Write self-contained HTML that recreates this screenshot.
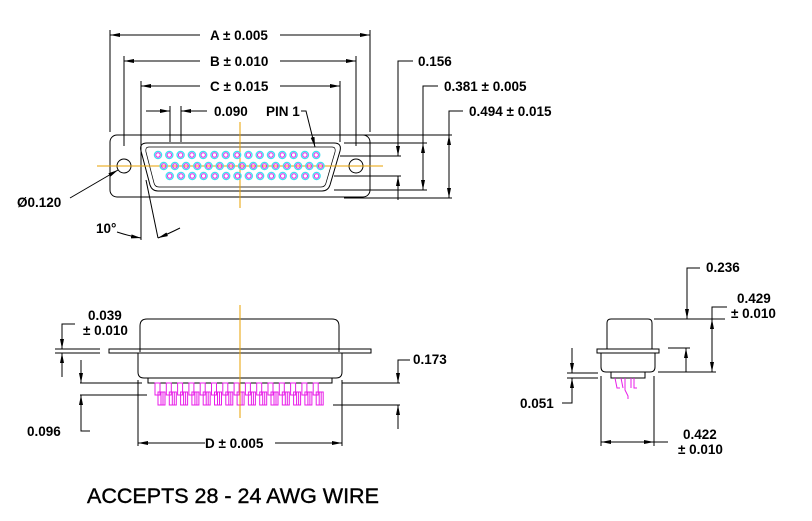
<!DOCTYPE html>
<html><head><style>body{margin:0;background:#fff}svg{display:block}text{font-family:"Liberation Sans",Arial,sans-serif;font-weight:bold;font-size:13.5px;fill:#000}</style></head>
<body>
<svg width="812" height="521" viewBox="0 0 812 521" xmlns="http://www.w3.org/2000/svg">
<defs>
<marker id="a" viewBox="0 0 10 4" refX="10" refY="2" markerWidth="10" markerHeight="4" orient="auto-start-reverse" markerUnits="userSpaceOnUse"><path d="M0,0L10,2L0,4z" fill="#000"/></marker>
</defs>
<g stroke="#000" stroke-width="1" fill="none">
<line x1="110" y1="30" x2="110" y2="132"/><line x1="370" y1="30" x2="370" y2="132"/>
<line x1="124" y1="56" x2="124" y2="146"/><line x1="356" y1="56" x2="356" y2="146"/>
<line x1="141" y1="81" x2="141" y2="142"/><line x1="340" y1="81" x2="340" y2="142"/>
<line x1="170" y1="106" x2="170" y2="142"/><line x1="181" y1="106" x2="181" y2="142"/>
<line x1="110" y1="35" x2="200" y2="35" marker-start="url(#a)"/><line x1="280" y1="35" x2="370" y2="35" marker-end="url(#a)"/>
<line x1="124" y1="61" x2="200" y2="61" marker-start="url(#a)"/><line x1="280" y1="61" x2="356" y2="61" marker-end="url(#a)"/>
<line x1="141" y1="86" x2="200" y2="86" marker-start="url(#a)"/><line x1="280" y1="86" x2="340" y2="86" marker-end="url(#a)"/>
<line x1="146" y1="111" x2="170" y2="111" marker-end="url(#a)"/><line x1="207" y1="111" x2="181" y2="111" marker-end="url(#a)"/>
<path d="M301,111h5l9,36" marker-end="url(#a)"/>
<rect x="110" y="135" width="260" height="62" rx="7"/>
<path d="M147,143H334q8,0 6,8L330,185q-2,6-8,6H158q-6,0-8-6L141,151q-2-8,6-8z"/>
<path d="M149,147H332q4,0 3,5L326,183q-1,4-5,4H159q-4,0-5-4L146,152q-1-5,3-5z" stroke-width="0.7"/>
<circle cx="124" cy="166" r="7"/><circle cx="356" cy="166" r="7"/>
<line x1="344" y1="135" x2="452" y2="135"/><line x1="344" y1="143" x2="427" y2="143"/>
<line x1="340" y1="156" x2="401" y2="156"/><line x1="334" y1="176" x2="401" y2="176"/>
<line x1="334" y1="190" x2="427" y2="190"/><line x1="344" y1="198" x2="452" y2="198"/>
<path d="M413,61h-15v95" marker-end="url(#a)"/><line x1="398" y1="200" x2="398" y2="176" marker-end="url(#a)"/>
<path d="M438,86h-15v57"/><line x1="423" y1="166" x2="423" y2="143" marker-end="url(#a)"/><line x1="423" y1="166" x2="423" y2="190" marker-end="url(#a)"/>
<path d="M463,111h-14v24"/><line x1="449" y1="166" x2="449" y2="135" marker-end="url(#a)"/><line x1="449" y1="166" x2="449" y2="198" marker-end="url(#a)"/>
<path d="M70,198l48-28" marker-end="url(#a)"/>
<line x1="141" y1="142" x2="141" y2="240"/><line x1="146" y1="180" x2="158" y2="238"/>
<path d="M117,232q12,4 24,6" marker-end="url(#a)"/><path d="M180,228q-12,6-22,10" marker-end="url(#a)"/>
<path d="M140,352V326q0-7,7-7H332q7,0 7,7V352"/>
<rect x="109" y="349" width="262" height="4"/>
<path d="M138,353V372q0,6,6,6H336q6,0 6-6V353"/>
<rect x="148" y="378" width="184" height="5"/>
<line x1="138" y1="380" x2="138" y2="446"/><line x1="342" y1="380" x2="342" y2="446"/>
<line x1="138" y1="443" x2="205" y2="443" marker-start="url(#a)"/><line x1="275" y1="443" x2="342" y2="443" marker-end="url(#a)"/>
<line x1="55" y1="349" x2="100" y2="349"/><line x1="55" y1="353" x2="100" y2="353"/>
<path d="M75,324h-13v25" marker-end="url(#a)"/><line x1="62" y1="377" x2="62" y2="353" marker-end="url(#a)"/>
<line x1="80" y1="383" x2="142" y2="383"/><line x1="80" y1="395" x2="147" y2="395"/>
<line x1="81" y1="360" x2="81" y2="383" marker-end="url(#a)"/><path d="M90,431h-9v-36" marker-end="url(#a)"/>
<line x1="342" y1="383" x2="400" y2="383"/><line x1="333" y1="405" x2="400" y2="405"/>
<path d="M410,360h-12v23" marker-end="url(#a)"/><line x1="398" y1="429" x2="398" y2="405" marker-end="url(#a)"/>
<path d="M607,349V323q0-4,4-4H648q4,0 4,4V349"/>
<rect x="597" y="349" width="62" height="4"/>
<path d="M601,353V367q0,5,5,5H650q5,0 5-5V353"/>
<rect x="611" y="372" width="34" height="6"/>
<line x1="601" y1="376" x2="601" y2="446"/><line x1="654" y1="376" x2="654" y2="446"/>
<line x1="601" y1="442" x2="628" y2="442" marker-start="url(#a)"/><line x1="628" y1="442" x2="654" y2="442" marker-end="url(#a)"/><line x1="654" y1="442" x2="668" y2="442"/>
<line x1="654" y1="319" x2="725" y2="319"/><line x1="658" y1="372" x2="716" y2="372"/><line x1="668" y1="348" x2="690" y2="348"/>
<path d="M700,268h-13v51" marker-end="url(#a)"/>
<line x1="686" y1="372" x2="686" y2="348" marker-end="url(#a)"/>
<path d="M727,307h-15v38"/><line x1="712" y1="345" x2="712" y2="319" marker-end="url(#a)"/><line x1="712" y1="345" x2="712" y2="372" marker-end="url(#a)"/>
<line x1="567" y1="373" x2="598" y2="373"/><line x1="567" y1="378" x2="598" y2="378"/>
<line x1="572" y1="348" x2="572" y2="373" marker-end="url(#a)"/><path d="M562,403h10v-25" marker-end="url(#a)"/>
</g>
<g stroke="#e81ee8" stroke-width="1" fill="none">
<path d="M615,378l2,10h3M625,378v12l3,6v3M634,378v10h3M621,378l2,10M631,378v10"/>
</g>
<g id="fp" stroke="#e81ee8" stroke-width="1" fill="none"></g>
<g stroke="#e8a200" stroke-width="1">
<line x1="97" y1="166" x2="383" y2="166"/><line x1="240" y1="122" x2="240" y2="208"/>
<line x1="240" y1="305" x2="240" y2="418"/>
</g>
<g id="pins"></g>
<text x="210" y="40">A ± 0.005</text><text x="210" y="66">B ± 0.010</text><text x="210" y="91">C ± 0.015</text>
<text x="214" y="116">0.090</text><text x="266" y="116">PIN 1</text>
<text x="418" y="66">0.156</text><text x="444" y="91">0.381 ± 0.005</text><text x="469" y="116">0.494 ± 0.015</text>
<text x="17" y="207">Ø0.120</text><text x="96" y="233">10°</text>
<text x="88" y="320">0.039</text><text x="83" y="335">± 0.010</text>
<text x="27" y="436">0.096</text><text x="413" y="364">0.173</text>
<text x="205" y="448">D ± 0.005</text>
<text x="706" y="272">0.236</text><text x="737" y="303">0.429</text><text x="731" y="318">± 0.010</text>
<text x="520" y="408">0.051</text><text x="683" y="439">0.422</text><text x="678" y="454">± 0.010</text>
<text x="87" y="503" style="font-size:21.5px;font-weight:normal;stroke:#000;stroke-width:0.4">ACCEPTS 28 - 24 AWG WIRE</text>
</svg>
<script>
var ns="http://www.w3.org/2000/svg",g=document.getElementById("pins"),f=document.getElementById("fp");
function c(x,y){var a=document.createElementNS(ns,"circle");a.setAttribute("cx",x);a.setAttribute("cy",y);a.setAttribute("r",3.6);a.setAttribute("fill","none");a.setAttribute("stroke","#40e0f0");a.setAttribute("stroke-width","1.3");g.appendChild(a);var b=document.createElementNS(ns,"circle");b.setAttribute("cx",x);b.setAttribute("cy",y);b.setAttribute("r",2.2);b.setAttribute("fill","none");b.setAttribute("stroke","#e81ee8");b.setAttribute("stroke-width","1");g.appendChild(b);}
for(var i=0;i<15;i++){c(158+i*11.3,155);c(163.7+i*11.2,166);}
for(var i=0;i<14;i++){c(169.7+i*11.3,176);}
for(var i=0;i<15;i++){var x=155+i*11.3;var r=document.createElementNS(ns,"rect");r.setAttribute("x",x);r.setAttribute("y",383);r.setAttribute("width",5);r.setAttribute("height",12);f.appendChild(r);var r2=document.createElementNS(ns,"rect");r2.setAttribute("x",x+3);r2.setAttribute("y",392);r2.setAttribute("width",5);r2.setAttribute("height",13);f.appendChild(r2);var r3=document.createElementNS(ns,"rect");r3.setAttribute("x",x+6);r3.setAttribute("y",392);r3.setAttribute("width",4);r3.setAttribute("height",13);f.appendChild(r3);}
</script>
</body></html>
